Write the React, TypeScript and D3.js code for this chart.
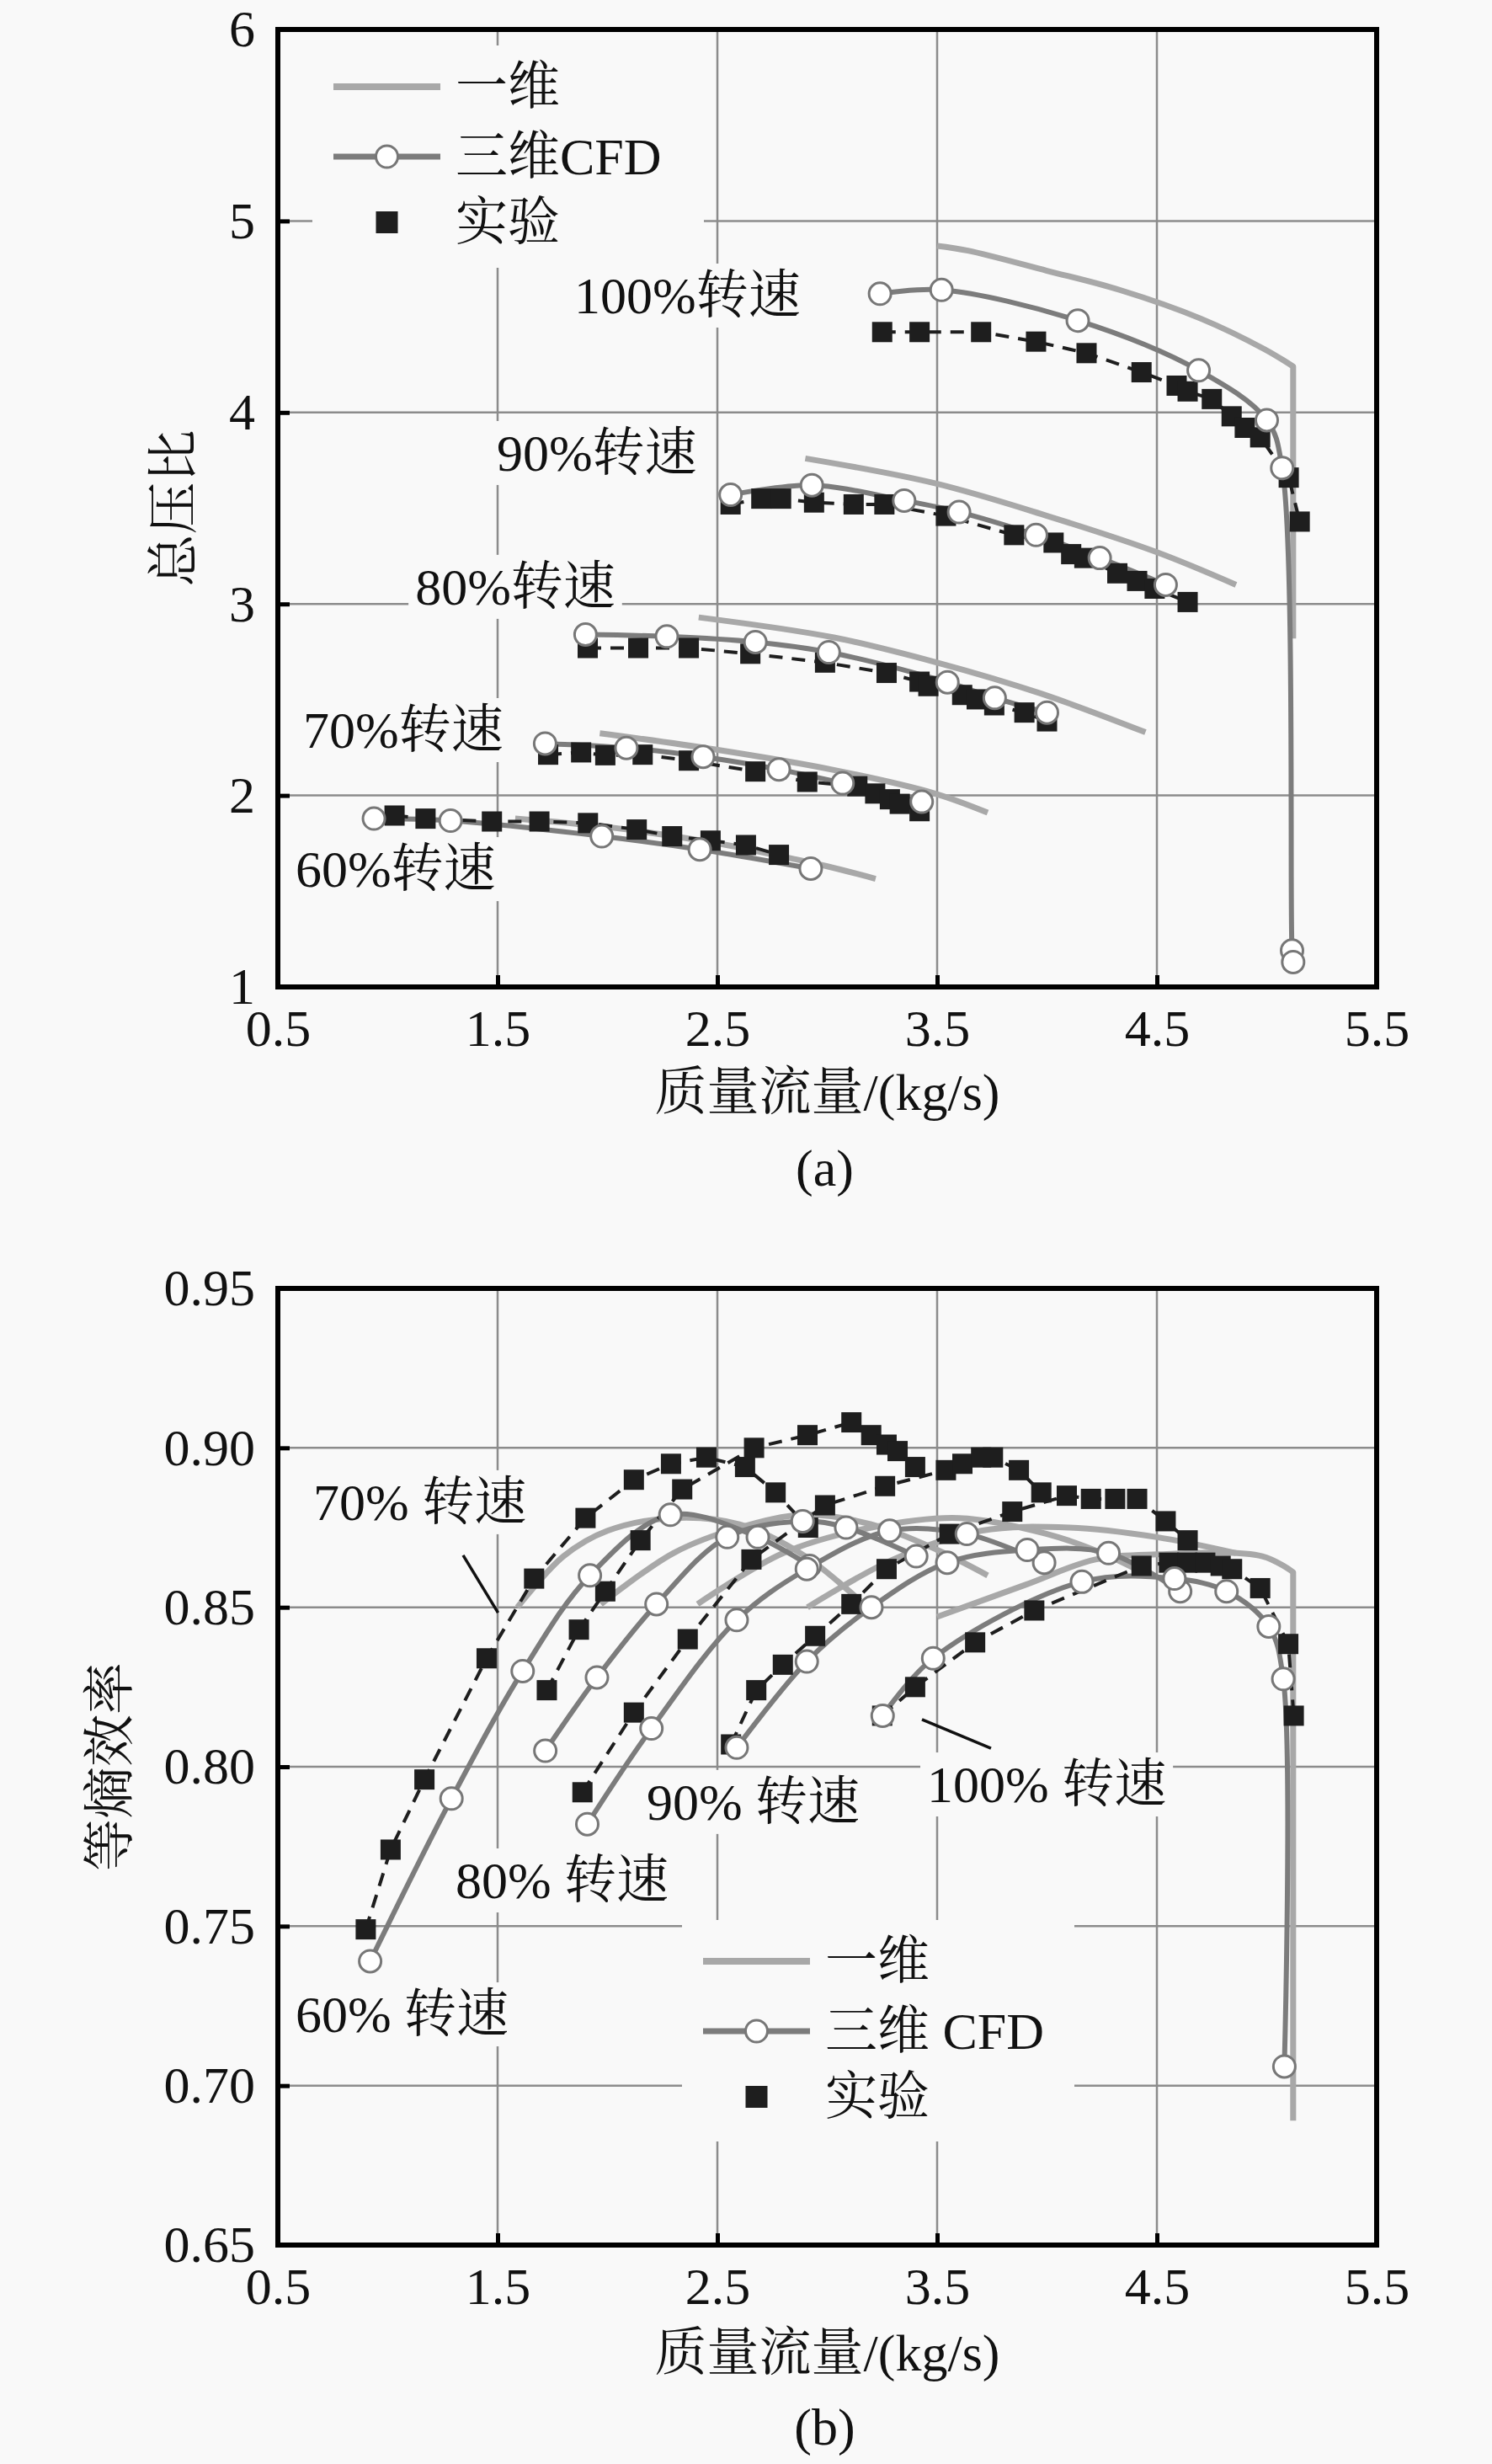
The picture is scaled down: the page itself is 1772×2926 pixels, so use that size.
import { useEffect, useRef } from 'react';
import * as d3 from 'd3';

type Pt = [number, number];

const W = 1772;
const H = 2926;
const FONT = "'Liberation Serif', 'Times New Roman', 'Noto Serif CJK SC', 'Noto Sans CJK SC', serif";
const FS = 62;
const BG = '#f9f9f9';
const GRID = '#8c8c8c';
const ONE_D = '#a8a8a8';
const CFD = '#7c7c7c';
const EXP = '#1e1e1e';

const xTicks = [0.5, 1.5, 2.5, 3.5, 4.5, 5.5];
const prTicks = [1, 2, 3, 4, 5, 6];
const effTicks = [0.65, 0.7, 0.75, 0.8, 0.85, 0.9, 0.95];

// ---- (a) 总压比 ----
const pr60OneD: Pt[] = [[1.58, 1.88], [2.0, 1.835], [2.5, 1.75], [2.8, 1.68], [3.0, 1.63], [3.22, 1.565]];
const pr70OneD: Pt[] = [[1.965, 2.325], [2.49, 2.24], [3.03, 2.133], [3.49, 2.01], [3.73, 1.91]];
const pr80OneD: Pt[] = [[2.415, 2.93], [3.03, 2.825], [3.5, 2.694], [3.97, 2.533], [4.448, 2.33]];
const pr90OneD: Pt[] = [[2.9, 3.76], [3.49, 3.63], [4.0, 3.46], [4.5, 3.27], [4.86, 3.1]];
const pr100OneD: Pt[] = [[3.5, 4.87], [3.64, 4.845], [4.0, 4.74], [4.33, 4.64], [4.7, 4.49], [4.99, 4.33], [5.12, 4.24], [5.12, 2.82]];

const pr60Cfd: Pt[] = [[0.937, 1.879], [1.286, 1.868], [1.974, 1.787], [2.42, 1.718], [2.925, 1.618]];
const pr70Cfd: Pt[] = [[1.716, 2.271], [2.086, 2.248], [2.435, 2.202], [2.78, 2.136], [3.07, 2.064], [3.43, 1.967]];
const pr80Cfd: Pt[] = [[1.9, 2.84], [2.27, 2.83], [2.673, 2.801], [3.007, 2.748], [3.547, 2.591], [3.762, 2.509], [4.0, 2.433]];
const pr90Cfd: Pt[] = [[2.56, 3.57], [2.93, 3.62], [3.35, 3.54], [3.6, 3.48], [3.95, 3.36], [4.24, 3.24], [4.54, 3.1]];
const pr100Cfd: Pt[] = [[3.24, 4.62], [3.52, 4.64], [4.14, 4.48], [4.69, 4.22], [5.0, 3.96], [5.07, 3.71], [5.115, 1.19], [5.12, 1.13]];

const pr60Exp: Pt[] = [[1.031, 1.895], [1.172, 1.879], [1.474, 1.864], [1.69, 1.864], [1.911, 1.856], [2.133, 1.822], [2.294, 1.787], [2.469, 1.764], [2.63, 1.741], [2.78, 1.69]];
const pr70Exp: Pt[] = [[1.73, 2.213], [1.88, 2.225], [1.99, 2.21], [2.16, 2.213], [2.37, 2.182], [2.673, 2.125], [2.909, 2.071], [3.137, 2.048], [3.218, 2.01], [3.285, 1.98], [3.33, 1.956], [3.42, 1.918]];
const pr80Exp: Pt[] = [[1.91, 2.77], [2.14, 2.77], [2.37, 2.77], [2.65, 2.74], [2.99, 2.694], [3.27, 2.64], [3.42, 2.594], [3.46, 2.571], [3.614, 2.525], [3.68, 2.502], [3.76, 2.471], [3.897, 2.433], [4.0, 2.387]];
const pr90Exp: Pt[] = [[2.56, 3.52], [2.7, 3.55], [2.79, 3.55], [2.94, 3.53], [3.12, 3.52], [3.26, 3.52], [3.54, 3.46], [3.85, 3.36], [4.03, 3.32], [4.11, 3.26], [4.17, 3.24], [4.32, 3.16], [4.41, 3.12], [4.49, 3.08], [4.64, 3.01]];
const pr100Exp: Pt[] = [[3.25, 4.42], [3.42, 4.42], [3.7, 4.42], [3.95, 4.37], [4.18, 4.31], [4.43, 4.21], [4.59, 4.14], [4.64, 4.11], [4.75, 4.07], [4.84, 3.98], [4.9, 3.92], [4.97, 3.87], [5.1, 3.66], [5.15, 3.43]];

// ---- (b) 等熵效率 ----
const eff60OneD: Pt[] = [[1.59, 0.85], [1.8, 0.866], [2.0, 0.874], [2.3, 0.878], [2.6, 0.876], [2.9, 0.866], [3.15, 0.852]];
const eff70OneD: Pt[] = [[1.97, 0.851], [2.3, 0.867], [2.6, 0.875], [2.9, 0.879], [3.2, 0.876], [3.5, 0.868], [3.73, 0.86]];
const eff80OneD: Pt[] = [[2.41, 0.851], [2.8, 0.867], [3.2, 0.875], [3.6, 0.878], [4.0, 0.873], [4.25, 0.867], [4.46, 0.86]];
const eff90OneD: Pt[] = [[2.91, 0.85], [3.3, 0.865], [3.7, 0.874], [4.1, 0.875], [4.5, 0.872], [4.86, 0.867]];
const eff100OneD: Pt[] = [[3.5, 0.847], [3.9, 0.857], [4.22, 0.865], [4.5, 0.8666], [4.98, 0.866], [5.12, 0.861], [5.12, 0.689]];

const eff60Cfd: Pt[] = [[0.92, 0.739], [1.29, 0.79], [1.614, 0.83], [1.92, 0.86], [2.286, 0.879], [2.684, 0.872], [2.92, 0.863]];
const eff70Cfd: Pt[] = [[1.717, 0.805], [1.952, 0.828], [2.223, 0.851], [2.545, 0.872], [2.888, 0.877], [3.086, 0.875], [3.405, 0.866]];
const eff80Cfd: Pt[] = [[1.908, 0.782], [2.2, 0.812], [2.588, 0.846], [2.907, 0.862], [3.284, 0.874], [3.635, 0.873], [3.987, 0.864]];
const eff90Cfd: Pt[] = [[2.588, 0.806], [2.907, 0.833], [3.201, 0.85], [3.546, 0.864], [3.91, 0.868], [4.28, 0.867], [4.606, 0.855]];
const eff100Cfd: Pt[] = [[3.252, 0.816], [3.482, 0.834], [4.159, 0.858], [4.58, 0.859], [4.817, 0.855], [5.009, 0.844], [5.075, 0.8275], [5.08, 0.706]];

const eff60Exp: Pt[] = [[0.9, 0.749], [1.013, 0.774], [1.167, 0.796], [1.45, 0.834], [1.666, 0.859], [1.9, 0.878], [2.12, 0.89], [2.289, 0.895], [2.45, 0.897], [2.626, 0.894], [2.765, 0.886], [2.913, 0.875]];
const eff70Exp: Pt[] = [[1.724, 0.824], [1.87, 0.843], [1.99, 0.855], [2.15, 0.871], [2.34, 0.887], [2.667, 0.9], [2.91, 0.904], [3.11, 0.908], [3.2, 0.904], [3.27, 0.901], [3.32, 0.899], [3.4, 0.894]];
const eff80Exp: Pt[] = [[1.886, 0.792], [2.12, 0.817], [2.365, 0.84], [2.655, 0.865], [2.99, 0.882], [3.263, 0.888], [3.54, 0.893], [3.615, 0.895], [3.7, 0.897], [3.754, 0.897], [3.872, 0.893], [3.974, 0.886]];
const eff90Exp: Pt[] = [[2.562, 0.807], [2.677, 0.824], [2.798, 0.832], [2.945, 0.841], [3.11, 0.851], [3.27, 0.862], [3.556, 0.873], [3.842, 0.88], [4.09, 0.885], [4.2, 0.884], [4.31, 0.884], [4.41, 0.884], [4.54, 0.877], [4.64, 0.871]];
const eff100Exp: Pt[] = [[3.25, 0.816], [3.4, 0.825], [3.673, 0.839], [3.942, 0.849], [4.43, 0.863], [4.555, 0.864], [4.638, 0.864], [4.72, 0.864], [4.79, 0.863], [4.842, 0.862], [4.97, 0.856], [5.098, 0.8385], [5.123, 0.816]];

// annotations: text, x, y (data units)
const prLabels: [string, number, number][] = [
  ['100%转速', 1.849, 4.518],
  ['90%转速', 1.496, 3.696],
  ['80%转速', 1.125, 2.997],
  ['70%转速', 0.615, 2.249],
  ['60%转速', 0.58, 1.523]
];
const effLabels: [string, number, number][] = [
  ['70% 转速', 0.661, 0.8774],
  ['90% 转速', 2.178, 0.7834],
  ['80% 转速', 1.308, 0.7588],
  ['60% 转速', 0.58, 0.7168],
  ['100% 转速', 3.454, 0.7889]
];
const effLeaders: [Pt, Pt][] = [
  [[1.343, 0.8663], [1.502, 0.8483]],
  [[3.431, 0.8148], [3.745, 0.8058]]
];

interface PanelCfg {
  top: number;
  bottom: number;
  ticks: number[];
  fmt: (d: number) => string;
  oneD: Pt[][];
  cfd: Pt[][];
  exp: Pt[][];
  labels: [string, number, number][];
  leaders: [Pt, Pt][];
  legend: { x0: number; x1: number; y0: number; y1: number; cfdName: string };
  yTitle: string;
  yTitleX: number;
  panelTag: string;
  xTitleY: number;
  tagY: number;
}

function drawPanel(svg: d3.Selection<SVGSVGElement, unknown, null, undefined>, cfg: PanelCfg) {
  const left = 330;
  const right = 1635;
  const x = d3.scaleLinear().domain([xTicks[0], xTicks[xTicks.length - 1]]).range([left, right]);
  const y = d3
    .scaleLinear()
    .domain([cfg.ticks[0], cfg.ticks[cfg.ticks.length - 1]])
    .range([cfg.bottom, cfg.top]);
  const g = svg.append('g');

  // grid
  g.append('g')
    .selectAll('line')
    .data(xTicks.slice(1, -1))
    .join('line')
    .attr('x1', (d) => x(d))
    .attr('x2', (d) => x(d))
    .attr('y1', cfg.top)
    .attr('y2', cfg.bottom)
    .attr('stroke', GRID)
    .attr('stroke-width', 2.5);
  g.append('g')
    .selectAll('line')
    .data(cfg.ticks.slice(1, -1))
    .join('line')
    .attr('x1', left)
    .attr('x2', right)
    .attr('y1', (d) => y(d))
    .attr('y2', (d) => y(d))
    .attr('stroke', GRID)
    .attr('stroke-width', 2.5);

  const bgLayer = g.append('g');
  const lg = cfg.legend;
  bgLayer
    .append('rect')
    .attr('x', lg.x0)
    .attr('y', lg.y0)
    .attr('width', lg.x1 - lg.x0)
    .attr('height', lg.y1 - lg.y0)
    .attr('fill', BG);

  const smooth = d3
    .line<Pt>()
    .x((d) => x(d[0]))
    .y((d) => y(d[1]))
    .curve(d3.curveCatmullRom.alpha(0.5));
  const straight = d3
    .line<Pt>()
    .x((d) => x(d[0]))
    .y((d) => y(d[1]));

  // smooth curve, but a vertical choke drop at the end stays a straight edge
  const curvePath = (s: Pt[]) => {
    const n = s.length;
    if (n > 2 && s[n - 1][0] === s[n - 2][0]) {
      return `${smooth(s.slice(0, -1))}L${x(s[n - 1][0])},${y(s[n - 1][1])}`;
    }
    return smooth(s) ?? '';
  };

  cfg.oneD.forEach((s) => {
    g.append('path')
      .attr('d', curvePath(s))
      .attr('fill', 'none')
      .attr('stroke', ONE_D)
      .attr('stroke-width', 7)
      .attr('stroke-linejoin', 'round');
  });
  cfg.cfd.forEach((s) => {
    g.append('path')
      .attr('d', curvePath(s))
      .attr('fill', 'none')
      .attr('stroke', CFD)
      .attr('stroke-width', 6)
      .attr('stroke-linejoin', 'round');
  });
  cfg.exp.forEach((s) => {
    g.append('path')
      .attr('d', straight(s))
      .attr('fill', 'none')
      .attr('stroke', EXP)
      .attr('stroke-width', 4)
      .attr('stroke-dasharray', '16,11');
  });
  cfg.exp.forEach((s) => {
    g.append('g')
      .selectAll('rect')
      .data(s)
      .join('rect')
      .attr('x', (d) => x(d[0]) - 12)
      .attr('y', (d) => y(d[1]) - 12)
      .attr('width', 24)
      .attr('height', 24)
      .attr('fill', EXP);
  });
  cfg.cfd.forEach((s) => {
    g.append('g')
      .selectAll('circle')
      .data(s)
      .join('circle')
      .attr('cx', (d) => x(d[0]))
      .attr('cy', (d) => y(d[1]))
      .attr('r', 13)
      .attr('fill', '#ffffff')
      .attr('stroke', '#777')
      .attr('stroke-width', 3);
  });

  // leader lines
  cfg.leaders.forEach(([a, b]) => {
    g.append('line')
      .attr('x1', x(a[0]))
      .attr('y1', y(a[1]))
      .attr('x2', x(b[0]))
      .attr('y2', y(b[1]))
      .attr('stroke', '#111')
      .attr('stroke-width', 3.5);
  });

  // annotations with background breaking the grid
  const txt = g.append('g').attr('font-family', FONT).attr('font-size', FS).attr('fill', '#111');
  cfg.labels.forEach(([t, lx, ly]) => {
    const el = txt.append('text').attr('x', x(lx)).attr('y', y(ly)).text(t);
    const bb = (el.node() as SVGTextElement).getBBox();
    bgLayer
      .append('rect')
      .attr('x', bb.x - 8)
      .attr('y', bb.y - 4)
      .attr('width', bb.width + 16)
      .attr('height', bb.height + 8)
      .attr('fill', BG);
  });

  // legend
  const rows = [lg.y0 + 49, lg.y0 + 132, lg.y0 + 210];
  const lx0 = lg.x0 + 25;
  const lx1 = lg.x0 + 152;
  const lxm = (lx0 + lx1) / 2;
  g.append('line').attr('x1', lx0).attr('x2', lx1).attr('y1', rows[0]).attr('y2', rows[0])
    .attr('stroke', ONE_D).attr('stroke-width', 8);
  g.append('line').attr('x1', lx0).attr('x2', lx1).attr('y1', rows[1]).attr('y2', rows[1])
    .attr('stroke', CFD).attr('stroke-width', 7);
  g.append('circle').attr('cx', lxm).attr('cy', rows[1]).attr('r', 13)
    .attr('fill', '#fff').attr('stroke', '#777').attr('stroke-width', 3);
  g.append('rect').attr('x', lxm - 13).attr('y', rows[2] - 13).attr('width', 26).attr('height', 26)
    .attr('fill', EXP);
  const legTxt = g.append('g').attr('font-family', FONT).attr('font-size', FS).attr('fill', '#111')
    .attr('dominant-baseline', 'central');
  ['一维', lg.cfdName, '实验'].forEach((t, i) => {
    legTxt.append('text').attr('x', lg.x0 + 170).attr('y', rows[i]).text(t);
  });

  // frame
  g.append('rect')
    .attr('x', left)
    .attr('y', cfg.top)
    .attr('width', right - left)
    .attr('height', cfg.bottom - cfg.top)
    .attr('fill', 'none')
    .attr('stroke', '#000')
    .attr('stroke-width', 6);

  // axes (inward ticks)
  const xa = g
    .append('g')
    .attr('transform', `translate(0,${cfg.bottom})`)
    .call(d3.axisBottom(x).tickValues(xTicks).tickSize(-14).tickPadding(26).tickFormat(d3.format('.1f')));
  const ya = g
    .append('g')
    .attr('transform', `translate(${left},0)`)
    .call(d3.axisLeft(y).tickValues(cfg.ticks).tickSize(-14).tickPadding(27).tickFormat((d) => cfg.fmt(+d)));
  [xa, ya].forEach((a) => {
    a.select('.domain').remove();
    a.attr('font-family', FONT).attr('font-size', FS);
    a.selectAll('.tick line').attr('stroke', '#000').attr('stroke-width', 5);
    a.selectAll('.tick text').attr('fill', '#111');
  });

  // titles
  svg.append('text')
    .attr('x', (left + right) / 2)
    .attr('y', cfg.xTitleY)
    .attr('text-anchor', 'middle')
    .attr('font-family', FONT)
    .attr('font-size', FS)
    .attr('fill', '#111')
    .text('质量流量/(kg/s)');
  svg.append('text')
    .attr('x', (left + right) / 2 - 3)
    .attr('y', cfg.tagY)
    .attr('text-anchor', 'middle')
    .attr('font-family', FONT)
    .attr('font-size', FS)
    .attr('fill', '#111')
    .text(cfg.panelTag);
  const cy = (cfg.top + cfg.bottom) / 2;
  svg.append('text')
    .attr('transform', `translate(${cfg.yTitleX},${cy}) rotate(-90)`)
    .attr('text-anchor', 'middle')
    .attr('dominant-baseline', 'central')
    .attr('font-family', FONT)
    .attr('font-size', FS)
    .attr('fill', '#111')
    .text(cfg.yTitle);
}

export default function App() {
  const svgRef = useRef<SVGSVGElement>(null);

  useEffect(() => {
    if (!svgRef.current) return;
    const svg = d3.select(svgRef.current);
    svg.selectAll('*').remove();
    svg.append('rect').attr('width', W).attr('height', H).attr('fill', BG);

    drawPanel(svg, {
      top: 35,
      bottom: 1172,
      ticks: prTicks,
      fmt: d3.format('d'),
      oneD: [pr60OneD, pr70OneD, pr80OneD, pr90OneD, pr100OneD],
      cfd: [pr60Cfd, pr70Cfd, pr80Cfd, pr90Cfd, pr100Cfd],
      exp: [pr60Exp, pr70Exp, pr80Exp, pr90Exp, pr100Exp],
      labels: prLabels,
      leaders: [],
      legend: { x0: 371, x1: 836, y0: 54, y1: 318, cfdName: '三维CFD' },
      yTitle: '总压比',
      yTitleX: 207,
      panelTag: '(a)',
      xTitleY: 1318,
      tagY: 1408
    });

    drawPanel(svg, {
      top: 1530,
      bottom: 2666,
      ticks: effTicks,
      fmt: d3.format('.2f'),
      oneD: [eff60OneD, eff70OneD, eff80OneD, eff90OneD, eff100OneD],
      cfd: [eff60Cfd, eff70Cfd, eff80Cfd, eff90Cfd, eff100Cfd],
      exp: [eff60Exp, eff70Exp, eff80Exp, eff90Exp, eff100Exp],
      labels: effLabels,
      leaders: effLeaders,
      legend: { x0: 810, x1: 1276, y0: 2280, y1: 2543, cfdName: '三维 CFD' },
      yTitle: '等熵效率',
      yTitleX: 131,
      panelTag: '(b)',
      xTitleY: 2815,
      tagY: 2903
    });
  }, []);

  return (
    <div style={{ position: 'absolute', left: 0, top: 0 }}>
      <svg ref={svgRef} width={W} height={H} style={{ display: 'block' }} />
    </div>
  );
}
